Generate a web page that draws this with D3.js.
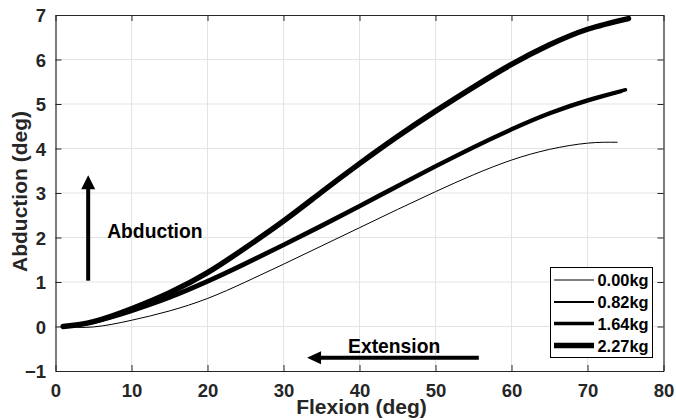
<!DOCTYPE html>
<html>
<head>
<meta charset="utf-8">
<script src="https://cdn.jsdelivr.net/npm/d3@7"></script>
<style>
  html, body { margin: 0; padding: 0; background: #fff; }
  svg { display: block; font-family: "Liberation Sans", Arial, Helvetica, sans-serif; font-weight: bold; }
</style>
</head>
<body>
<svg id="chart" width="676" height="420"></svg>
<script>
// Flexion angle (deg) sample points
const flexion = [1, 5, 10, 15, 20, 25, 30, 35, 40, 45, 50, 55, 60, 65, 70];

// Abduction (deg) for each load
const abd000 = [0, -0.01, 0.14, 0.35, 0.63, 1.00, 1.40, 1.81, 2.22, 2.63, 3.03, 3.41, 3.74, 3.98, 4.12];
const abd082 = [0, 0.08, 0.32, 0.62, 0.98, 1.38, 1.80, 2.23, 2.67, 3.12, 3.57, 4.00, 4.40, 4.76, 5.05];
const abd164 = [0, 0.10, 0.36, 0.67, 1.03, 1.43, 1.85, 2.28, 2.72, 3.17, 3.61, 4.04, 4.44, 4.80, 5.09];
const abd227 = [0, 0.11, 0.40, 0.76, 1.21, 1.77, 2.37, 3.02, 3.66, 4.27, 4.84, 5.38, 5.89, 6.33, 6.68];

// Final sample of each curve (flexion, abduction)
const endPoints = [[73.9, 4.14], [74.5, 5.27], [75.0, 5.32], [75.4, 6.92]];

const loadLabels = ["0.00kg", "0.82kg", "1.64kg", "2.27kg"];
const lineWidths = [1, 2, 3.4, 5.5];

// Axis ticks
const xTicks = [0, 10, 20, 30, 40, 50, 60, 70, 80];
const yTicks = [-1, 0, 1, 2, 3, 4, 5, 6, 7];

// Direction annotations (data units)
const abductionArrow = { x: 4.3, from: 1.03, to: 3.40, label: "Abduction", lx: 6.8, ly: 1.98 };
const extensionArrow = { y: -0.70, from: 55.7, to: 33.1, label: "Extension", lx: 38.5, ly: -0.60 };

const svg = d3.select("#chart");
const plotLeft = 55.5, plotRight = 663.5, plotTop = 15, plotBottom = 371;

const x = d3.scaleLinear().domain([0, 80]).range([plotLeft, plotRight]);
const y = d3.scaleLinear().domain([-1, 7]).range([plotBottom, plotTop]);

const axisColor = "#262626";

// Grid
const grid = svg.append("g");
grid.selectAll("line.gx").data(xTicks.slice(1, -1)).join("line")
  .attr("x1", d => x(d)).attr("x2", d => x(d))
  .attr("y1", plotTop).attr("y2", plotBottom)
  .attr("stroke", "#e3e3e3").attr("stroke-width", 1);
grid.selectAll("line.gy").data(yTicks.slice(1, -1)).join("line")
  .attr("y1", d => y(d)).attr("y2", d => y(d))
  .attr("x1", plotLeft).attr("x2", plotRight)
  .attr("stroke", "#e3e3e3").attr("stroke-width", 1);

// Axes (ticks pointing inward on all sides)
const tickLen = 6;
const fmt = d3.format("d");
const xAxisB = svg.append("g").attr("transform", `translate(0,${plotBottom})`)
  .call(d3.axisBottom(x).tickValues(xTicks).tickSizeInner(-tickLen).tickSizeOuter(0).tickPadding(14).tickFormat(fmt));
const xAxisT = svg.append("g").attr("transform", `translate(0,${plotTop})`)
  .call(d3.axisTop(x).tickValues(xTicks).tickSizeInner(-tickLen).tickSizeOuter(0).tickFormat(""));
const yAxisL = svg.append("g").attr("transform", `translate(${plotLeft},0)`)
  .call(d3.axisLeft(y).tickValues(yTicks).tickSizeInner(-tickLen).tickSizeOuter(0).tickPadding(9.5).tickFormat(fmt));
const yAxisR = svg.append("g").attr("transform", `translate(${plotRight},0)`)
  .call(d3.axisRight(y).tickValues(yTicks).tickSizeInner(-tickLen).tickSizeOuter(0).tickFormat(""));

[xAxisB, xAxisT, yAxisL, yAxisR].forEach(g => {
  g.select(".domain").attr("stroke", axisColor).attr("stroke-width", 1.2);
  g.selectAll(".tick line").attr("stroke", axisColor).attr("stroke-width", 1);
  g.selectAll(".tick text").attr("fill", axisColor)
    .style("font-family", "'Liberation Sans', Arial, sans-serif")
    .style("font-weight", "bold").style("font-size", "18.5px");
});
xAxisB.selectAll(".tick text").attr("dy", "0.71em").attr("y", 13);
yAxisL.selectAll(".tick text").attr("dy", "0.36em");

// Axis titles
svg.append("text").attr("x", 361.5).attr("y", 414).attr("text-anchor", "middle")
  .attr("fill", axisColor).style("font-size", "21px").text("Flexion (deg)");
svg.append("text").attr("transform", `translate(27,191.5) rotate(-90)`)
  .attr("text-anchor", "middle").attr("fill", axisColor).style("font-size", "21px")
  .text("Abduction (deg)");

// Curves
const series = [abd000, abd082, abd164, abd227].map((vals, i) => {
  const pts = flexion.map((f, j) => [f, vals[j]]);
  pts.push(endPoints[i]);
  return pts;
});
const line = d3.line().x(d => x(d[0])).y(d => y(d[1])).curve(d3.curveNatural);
svg.append("g").selectAll("path").data(series).join("path")
  .attr("d", line)
  .attr("fill", "none").attr("stroke", "#000")
  .attr("stroke-width", (d, i) => lineWidths[i])
  .attr("stroke-linecap", "round").attr("stroke-linejoin", "round");

// Annotation arrows
function arrowHead(tipX, tipY, dir, len, half) {
  // dir: "up" or "left"
  if (dir === "up") return `M${tipX},${tipY} L${tipX - half},${tipY + len} L${tipX + half},${tipY + len} Z`;
  return `M${tipX},${tipY} L${tipX + len},${tipY - half} L${tipX + len},${tipY + half} Z`;
}
const ann = svg.append("g");
ann.append("line")
  .attr("x1", x(abductionArrow.x)).attr("x2", x(abductionArrow.x))
  .attr("y1", y(abductionArrow.from)).attr("y2", y(abductionArrow.to) + 12)
  .attr("stroke", "#000").attr("stroke-width", 4);
ann.append("path").attr("d", arrowHead(x(abductionArrow.x), y(abductionArrow.to), "up", 14, 7)).attr("fill", "#000");
ann.append("text").attr("x", x(abductionArrow.lx)).attr("y", y(abductionArrow.ly))
  .attr("fill", "#000").style("font-size", "19.3px").text(abductionArrow.label);

ann.append("line")
  .attr("y1", y(extensionArrow.y)).attr("y2", y(extensionArrow.y))
  .attr("x1", x(extensionArrow.from)).attr("x2", x(extensionArrow.to) + 12)
  .attr("stroke", "#000").attr("stroke-width", 4);
ann.append("path").attr("d", arrowHead(x(extensionArrow.to), y(extensionArrow.y), "left", 14, 6.5)).attr("fill", "#000");
ann.append("text").attr("x", x(extensionArrow.lx)).attr("y", y(extensionArrow.ly))
  .attr("fill", "#000").style("font-size", "19.3px").text(extensionArrow.label);

// Legend
const legend = svg.append("g");
legend.append("rect").attr("x", 550.5).attr("y", 267.5).attr("width", 102).attr("height", 90)
  .attr("fill", "#fff").attr("stroke", "#000").attr("stroke-width", 1);
const rowY = [280, 302, 323.5, 345.5];
loadLabels.forEach((lab, i) => {
  legend.append("line").attr("x1", 554).attr("x2", 594).attr("y1", rowY[i]).attr("y2", rowY[i])
    .attr("stroke", "#000").attr("stroke-width", lineWidths[i]);
  legend.append("text").attr("x", 597.5).attr("y", rowY[i] + 6)
    .attr("fill", "#000").style("font-size", "16.4px").text(lab);
});
</script>
</body>
</html>
